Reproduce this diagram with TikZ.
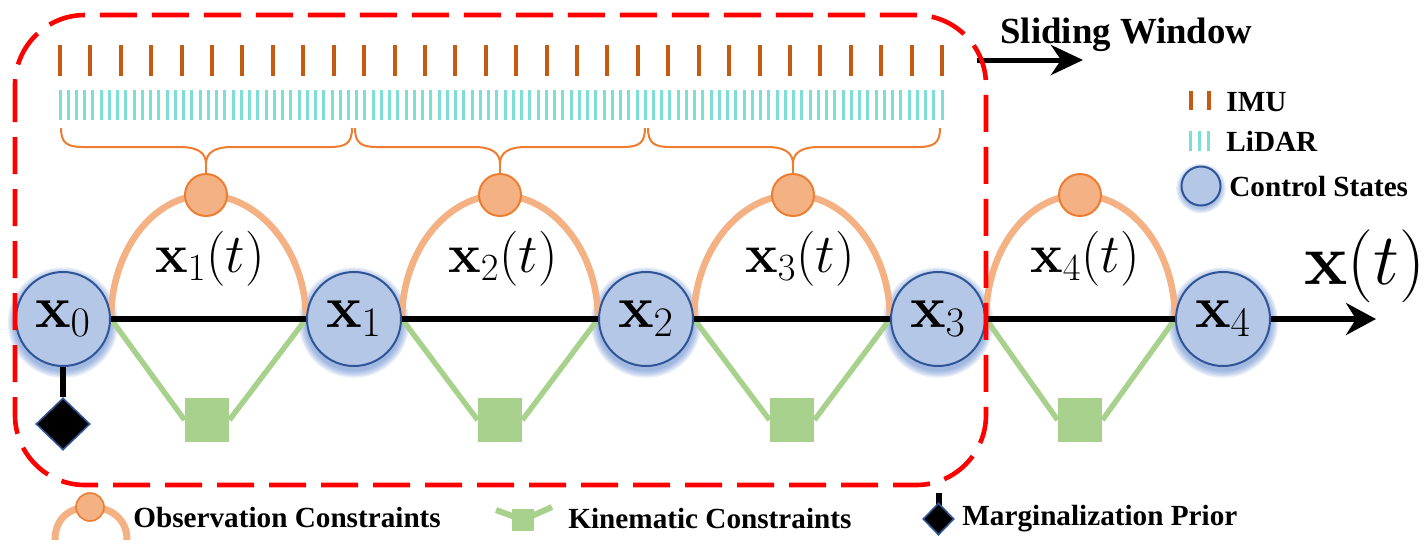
\RequirePackage{fix-cm}
\documentclass[tikz,border=0pt]{standalone}
\usepackage[no-math]{fontspec}
\newfontfamily\lib{Liberation Serif}
\usetikzlibrary{shapes.geometric,arrows.meta}
\pgfdeclarelayer{bg}
\pgfsetlayers{bg,main}
\definecolor{imuc}{HTML}{C55A11}
\definecolor{lidc}{HTML}{7DDED6}
\definecolor{obsf}{HTML}{F4B183}
\definecolor{obsd}{HTML}{ED7D31}
\definecolor{kinc}{HTML}{A9D18E}
\definecolor{nodef}{HTML}{B4C7E7}
\definecolor{noded}{HTML}{2F5597}
\definecolor{glowc}{HTML}{4472C4}
\tikzset{
  state/.style={circle, fill=nodef, draw=noded, line width=1pt, minimum size=47pt, inner sep=0pt, font=\fontsize{30}{32}\selectfont},
  legstate/.style={circle, fill=nodef, draw=noded, line width=1pt, minimum size=19.5pt, inner sep=0pt},
  obs/.style={circle, fill=obsf, draw=obsd, line width=1pt, minimum size=21pt, inner sep=0pt},
  legobs/.style={circle, fill=obsf, draw=obsd, line width=0.8pt, minimum size=14pt, inner sep=0pt},
  kin/.style={rectangle, fill=kinc, minimum size=22pt, inner sep=0pt},
  legkin/.style={rectangle, fill=kinc, minimum size=11pt, inner sep=0pt},
  marg/.style={diamond, fill=black, draw=noded, line width=0.8pt, minimum width=27pt, minimum height=26pt, inner sep=0pt},
  legmarg/.style={diamond, fill=black, draw=noded, line width=0.8pt, minimum width=15.5pt, minimum height=16pt, inner sep=0pt},
  lbl/.style={font=\fontsize{27.5}{30}\selectfont, inner sep=0pt, anchor=base},
  legtext/.style={font=\lib\bfseries\fontsize{14.6}{16}\selectfont, anchor=base west, inner sep=0pt},
  obsline/.style={draw=obsf, line width=3.3pt},
  kinline/.style={draw=kinc, line width=2.7pt},
  chain/.style={draw=black, line width=2.8pt},
  bracec/.style={draw=obsd, line width=1pt},
  glow/.style={fill=glowc, opacity=0.13},
}
\begin{document}
\begin{tikzpicture}[x=0.5pt, y=-0.5pt]
\useasboundingbox (0,0) rectangle (1425,543);

% ---------- sensor ticks ----------
\foreach \i in {0,...,29} \draw[imuc, line width=2pt] ({60+\i*30.414},45) -- ++(0,31);
\foreach \i in {0,...,107} \draw[lidc, line width=1.5pt] ({60+\i*8.243},90) -- ++(0,30);

% ---------- nodes ----------
\node[state] (n0) at (63,319) {$\mathbf{x}_0$};
\node[state] (n1) at (354,319) {$\mathbf{x}_1$};
\node[state] (n2) at (646,319) {$\mathbf{x}_2$};
\node[state] (n3) at (938,319) {$\mathbf{x}_3$};
\node[state] (n4) at (1223,319) {$\mathbf{x}_4$};

\node[obs] (o1) at (206,195) {};
\node[obs] (o2) at (500,195) {};
\node[obs] (o3) at (793,195) {};
\node[obs] (o4) at (1080,195) {};

\node[kin] (k1) at (207,420) {};
\node[kin] (k2) at (500,420) {};
\node[kin] (k3) at (792,420) {};
\node[kin] (k4) at (1080,420) {};

\node[marg] (d0) at (63,424) {};

\node[lbl] (l1) at (210,272) {$\mathbf{x}_1(t)$};
\node[lbl] (l2) at (503,272) {$\mathbf{x}_2(t)$};
\node[lbl] (l3) at (800,272) {$\mathbf{x}_3(t)$};
\node[lbl] (l4) at (1085,272) {$\mathbf{x}_4(t)$};
\node[inner sep=0pt, font=\fontsize{36.5}{40}\selectfont, anchor=base] (xt) at (1365,284) {$\mathbf{x}(t)$};

% ---------- braces ----------
\foreach \a/\m/\b/\o in {61/206/352/o1, 355/500/645/o2, 648/793/940/o3}{
  \draw[bracec] (\a,128) .. controls (\a,143) and (\a+6,147) .. (\a+22,147)
     -- (\m-26,147) .. controls (\m-8,147) and (\m,153) .. (\m,164)
     .. controls (\m,153) and (\m+8,147) .. (\m+26,147)
     -- (\b-22,147) .. controls (\b-6,147) and (\b,143) .. (\b,128);
  \coordinate (tip\o) at (\m,164);
  \draw[bracec] (tip\o) -- (\o.north);
}

% ---------- legend (top right) ----------
\node[inner sep=0pt, anchor=base west, font=\lib\bfseries\fontsize{18.4}{20}\selectfont] (swt) at (1000,43) {Sliding Window};
\coordinate (sw0) at (977,60);
\coordinate (sw1) at (1083,60);
\draw[line width=2.5pt, -{Stealth[length=16pt, width=15pt, inset=5pt]}] (sw0) -- (sw1);

\draw[imuc, line width=2pt] (1191,91) -- (1191,110) (1209,91) -- (1209,110);
\node[legtext] (timu) at (1226,111) {IMU};
\draw[lidc, line width=1.5pt] (1190,131) -- (1190,151) (1199,131) -- (1199,151) (1208,131) -- (1208,151);
\node[legtext] (tlid) at (1226,151) {LiDAR};
\node[legstate] (cs) at (1201,186) {};
\node[legtext] (tcs) at (1229,196) {Control States};

% ---------- legend (bottom) ----------
\node[legobs] (lo) at (90,507) {};
\coordinate (loa) at (55,540);
\coordinate (lob) at (127,540);
\node[legtext] (tobs) at (133,527) {Observation Constraints};

\node[legkin] (lk) at (523,520) {};
\coordinate (lka) at (496,510);
\coordinate (lkb) at (552,507);
\node[legtext] (tkin) at (568,528) {Kinematic Constraints};

\node[legmarg] (lm) at (938.5,519) {};
\coordinate (lms) at (938.5,493);
\node[legtext] (tmar) at (962,525) {Marginalization Prior};

% ---------- background connectors ----------
\begin{pgfonlayer}{bg}
  \foreach \n in {n0,n1,n2,n3,n4}{
    \foreach \r in {24.4,25.2,26,26.8,27.6}
      \fill[glow] ([yshift=-1.8pt]\n.center) circle[radius=\r pt];
  }
  \foreach \r in {10.3,11,11.7,12.4}
    \fill[glow] ([yshift=-1.2pt]cs.center) circle[radius=\r pt];

  \draw[obsline] (n0.east) .. controls +(0,-68) and +(-53,0) .. (o1.center) .. controls +(53,0) and +(0,-68) .. (n1.west);
  \draw[obsline] (n1.east) .. controls +(0,-68) and +(-53,0) .. (o2.center) .. controls +(53,0) and +(0,-68) .. (n2.west);
  \draw[obsline] (n2.east) .. controls +(0,-68) and +(-53,0) .. (o3.center) .. controls +(53,0) and +(0,-68) .. (n3.west);
  \draw[obsline] (n3.east) .. controls +(0,-68) and +(-53,0) .. (o4.center) .. controls +(53,0) and +(0,-68) .. (n4.west);

  \draw[kinline] (n0.east) -- (k1.west) (k1.east) -- (n1.west);
  \draw[kinline] (n1.east) -- (k2.west) (k2.east) -- (n2.west);
  \draw[kinline] (n2.east) -- (k3.west) (k3.east) -- (n3.west);
  \draw[kinline] (n3.east) -- (k4.west) (k4.east) -- (n4.west);

  \draw[chain] (n0) -- (n1) -- (n2) -- (n3) -- (n4);
  \draw[chain] (n0.south) -- (d0.north);

  \draw[obsline, line width=3.5pt] (loa) .. controls +(0,-22) and +(-20,0) .. (lo.center) .. controls +(20,0) and +(0,-22) .. (lob);
  \draw[kinline, line width=3pt] (lka) -- (lk.center) -- (lkb);
  \draw[line width=3pt] (lms) -- (lm.center);
\end{pgfonlayer}

\coordinate (axend) at (1376,319);
\draw[chain, -{Stealth[length=15pt, width=16pt, inset=5pt]}] (n4.east) -- (axend);

% ---------- sliding window box ----------
\draw[red, line width=2.3pt, dash pattern=on 18.5pt off 7.5pt, rounded corners=35pt] (15,15) rectangle (986,485);
\end{tikzpicture}
\end{document}
